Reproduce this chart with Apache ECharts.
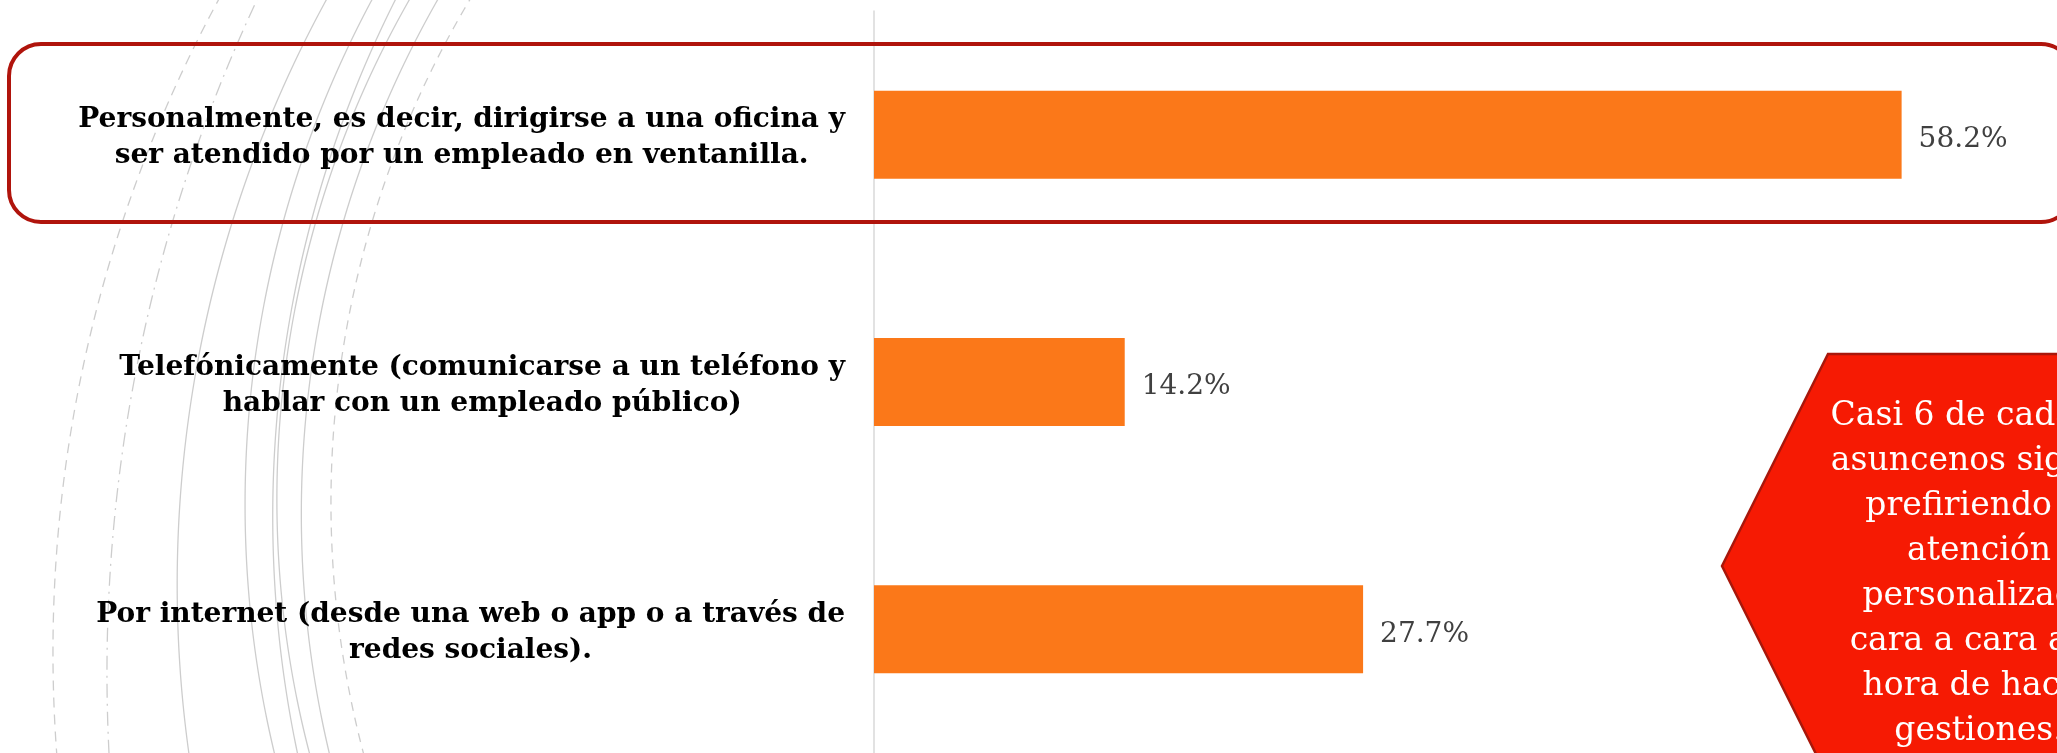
<!DOCTYPE html>
<html>
<head>
<meta charset="utf-8">
<script src="https://cdn.jsdelivr.net/npm/echarts@6/dist/echarts.min.js"></script>
<style>
html,body{margin:0;padding:0;background:#fff;}
#c{width:2057px;height:753px;}
</style>
</head>
<body>
<div id="c"></div>
<script>
// ---- data ----
const categories = [
  'Personalmente, es decir, dirigirse a una oficina y\nser atendido por un empleado en ventanilla.',
  'Telefónicamente (comunicarse a un teléfono y\nhablar con un empleado público)',
  'Por internet (desde una web o app o a través de\nredes sociales).'
];
const values = [58.2, 14.2, 27.7];
const calloutLines = [
  'Casi 6 de cada 10',
  'asuncenos siguen',
  'prefiriendo la',
  'atención',
  'personalizada',
  'cara a cara a la',
  'hora de hacer',
  'gestiones.'
];

// ---- decorative background arcs (sample points, circle fitted) ----
const arcs = [
  {p: [[210,15],[113,255],[61,495],[57,753]], dash: [10,7]},
  {p: [[250,15],[163,255],[117,495],[109,753]], dash: [14,6,2,6]},
  {p: [[318,15],[223,255],[180,495],[189,753]], dash: null},
  {p: [[363,15],[277,255],[243,495],[275,753]], dash: null},
  {p: [[387,15],[305,255],[271,495],[298,753]], dash: null},
  {p: [[400,15],[309,255],[275,495],[310,753]], dash: null},
  {p: [[428,15],[337,255],[299,495],[330,753]], dash: null},
  {p: [[460,15],[365,255],[329,495],[364,753]], dash: [9,7]}
];
function det3(m){
  return m[0][0]*(m[1][1]*m[2][2]-m[1][2]*m[2][1])
       - m[0][1]*(m[1][0]*m[2][2]-m[1][2]*m[2][0])
       + m[0][2]*(m[1][0]*m[2][1]-m[1][1]*m[2][0]);
}
function fitCircle(pts){
  let sxx=0,sxy=0,sx=0,syy=0,sy=0,n=pts.length,sxz=0,syz=0,sz=0;
  pts.forEach(([x,y])=>{const z=x*x+y*y;sxx+=x*x;sxy+=x*y;sx+=x;syy+=y*y;sy+=y;sxz+=x*z;syz+=y*z;sz+=z;});
  const A=[[sxx,sxy,sx],[sxy,syy,sy],[sx,sy,n]];
  const b=[-sxz,-syz,-sz];
  const d=det3(A);
  const sol=[0,1,2].map(k=>det3(A.map((row,i)=>row.map((v,j)=>j===k?b[i]:v)))/d);
  const cx=-sol[0]/2, cy=-sol[1]/2;
  return {cx, cy, r:Math.sqrt(cx*cx+cy*cy-sol[2])};
}
const arcElems = arcs.map(a=>{
  const c = fitCircle(a.p);
  const pts=[];
  for(let y=-20;y<=775;y+=6){
    const dy=y-c.cy, q=c.r*c.r-dy*dy;
    if(q>0) pts.push([c.cx-Math.sqrt(q), y]);
  }
  return {type:'polyline', z:-5, silent:true, shape:{points:pts},
    style:{stroke:'#cdcdcd', lineWidth:1.3, fill:null, lineDash:a.dash||null}};
});

const chart = echarts.init(document.getElementById('c'), null, {renderer:'canvas'});
chart.setOption({
  backgroundColor:'#ffffff',
  animation:false,
  grid:{left:874, top:11, right:0, height:744, containLabel:false},
  xAxis:{type:'value', min:0, max:67, show:false, splitLine:{show:false}},
  yAxis:{
    type:'category', data:categories, inverse:true,
    axisTick:{show:false},
    axisLine:{show:true, lineStyle:{color:'#d9d9d9', width:1.5}},
    axisLabel:{
      interval:0, margin:29, align:'right', padding:[7,0,0,0],
      formatter:v=>v.split('\n').map(l=>'{c|'+l+'}').join('\n'),
      rich:{c:{align:'center', fontFamily:'DejaVu Serif, serif', fontWeight:'bold', fontSize:28, lineHeight:36, color:'#000'}}
    }
  },
  series:[{
    type:'bar', data:values, barWidth:88,
    itemStyle:{color:'#FB7819'},
    label:{show:true, position:'right', distance:17, offset:[0,5], formatter:p=>p.value.toFixed(1)+'%',
      fontFamily:'DejaVu Serif, serif', fontSize:28, color:'#404040'}
  }],
  graphic:[].concat(arcElems, [
    {type:'rect', z:10, silent:true, shape:{x:9, y:44, width:2064, height:178, r:32},
      style:{fill:null, stroke:'#B0140C', lineWidth:4}},
    {type:'polygon', z:10, silent:true,
      shape:{points:[[1722,566],[1828,354],[2150,354],[2256,566],[2150,778],[1828,778]]},
      style:{fill:'#F61A03', stroke:'#A8170B', lineWidth:2.5}},
    {type:'text', z:11, silent:true, x:1979, y:394,
      style:{text:calloutLines.join('\n'), fill:'#ffffff', font:'33px "DejaVu Serif", serif',
        align:'center', verticalAlign:'top', lineHeight:45}}
  ])
});
</script>
</body>
</html>
